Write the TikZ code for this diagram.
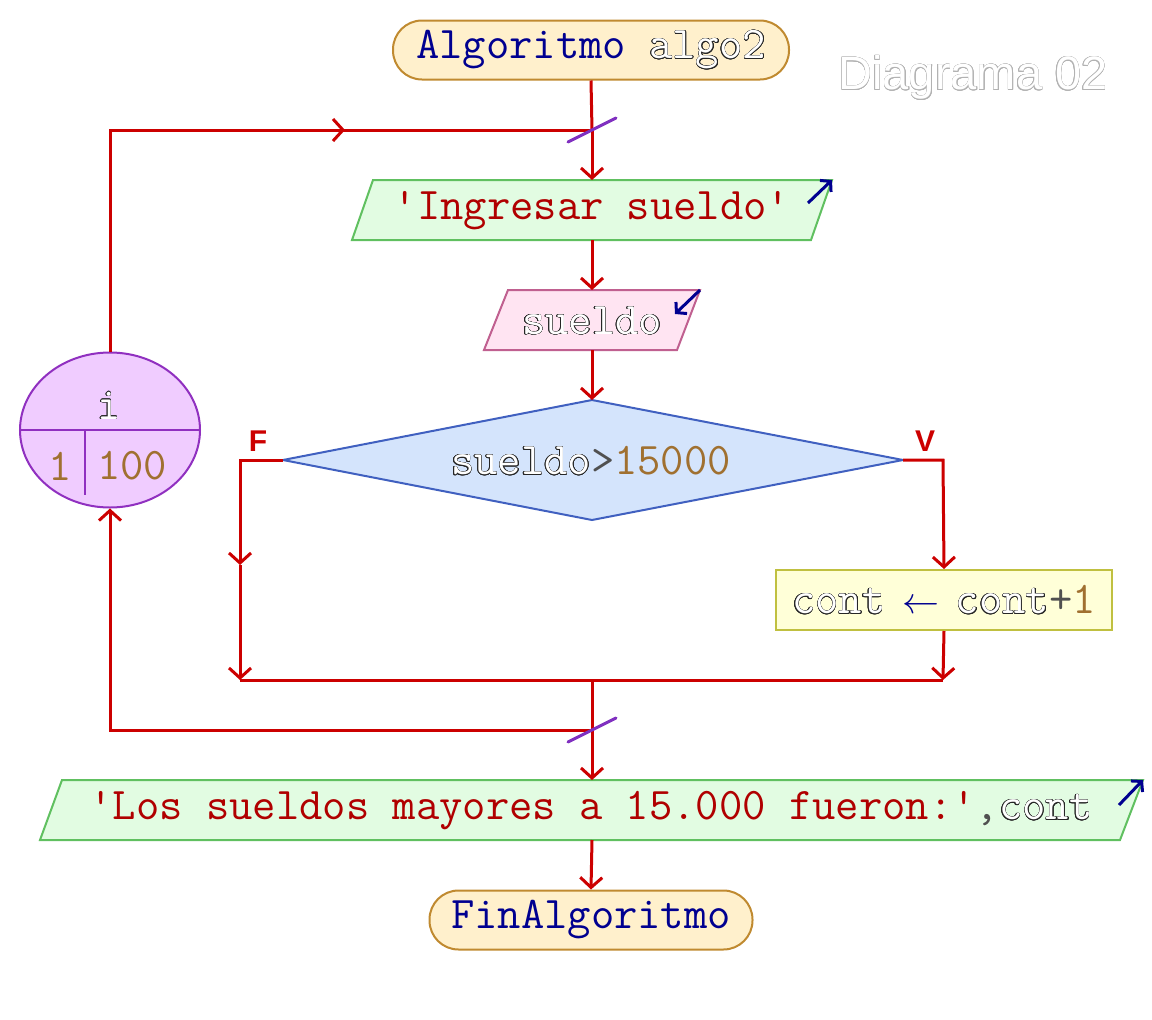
\documentclass[tikz,border=0pt]{standalone}
\usepackage{fontspec}
\usepackage{graphicx}
\newfontfamily\labfont{Liberation Sans}
\usepackage[copies]{contour}
\contourlength{0.45pt}
\contournumber{16}
\usetikzlibrary{arrows.meta,shapes.geometric}
\definecolor{flowred}{HTML}{CC0000}
\definecolor{strred}{HTML}{B00000}
\definecolor{kwblue}{HTML}{000090}
\definecolor{numbrown}{HTML}{A07030}
\definecolor{opgray}{HTML}{505050}
\definecolor{slashpur}{HTML}{8030C0}
\definecolor{termfill}{HTML}{FFF0CC}
\definecolor{termdraw}{HTML}{C08A30}
\definecolor{outfill}{HTML}{E2FCE2}
\definecolor{outdraw}{HTML}{60C060}
\definecolor{infill}{HTML}{FFE4F2}
\definecolor{indraw}{HTML}{C06090}
\definecolor{decfill}{HTML}{D4E4FC}
\definecolor{decdraw}{HTML}{4060C0}
\definecolor{asgfill}{HTML}{FFFFD8}
\definecolor{asgdraw}{HTML}{C0C040}
\definecolor{forfill}{HTML}{F0CCFF}
\definecolor{fordraw}{HTML}{9030C0}
\newcommand\outv[1]{{\color{white}\contour{black!85}{#1}}}
\newcommand\kw[1]{\textcolor{kwblue}{#1}}
\newcommand\str[1]{\textcolor{strred}{#1}}
\newcommand\num[1]{\textcolor{numbrown}{#1}}
\newcommand\op[1]{\textcolor{opgray}{#1}}
\newcommand\qs{\textquotesingle}
\begin{document}
\begin{tikzpicture}[x=1pt,y=-1pt,
  txt/.style={font=\ttfamily\fontsize{45.3}{46}\selectfont, inner sep=0pt},
  flow/.style={draw=flowred, line width=3pt},
  tip/.style={-{Straight Barb[length=10pt,width=22pt]}},
  term/.style={txt, draw=termdraw, fill=termfill, line width=2pt, rounded corners=29pt, minimum height=59pt},
  outshape/.style={draw=outdraw, fill=outfill, line width=2pt},
  inshape/.style={draw=indraw, fill=infill, line width=2pt},
  decshape/.style={draw=decdraw, fill=decfill, line width=2pt},
  asg/.style={txt, draw=asgdraw, fill=asgfill, line width=2pt, minimum width=336pt, minimum height=60pt},
  forshape/.style={draw=fordraw, fill=forfill, line width=2pt},
  slash/.style={draw=slashpur, line width=3pt, line cap=round},
  ioarrow/.style={draw=kwblue, line width=3pt, -{Straight Barb[length=7pt,width=16pt]}},
  branchlab/.style={font=\labfont\bfseries\fontsize{30}{30}\selectfont, text=flowred, inner sep=0pt}]
\useasboundingbox (0,0) rectangle (1152,1020);

% title
\node[font=\labfont\fontsize{47}{47}\selectfont, inner sep=0pt, text=white] (title) at (973,78) {{\color{white}\contour{black!30}{Diagrama 02}}};

% start
\node[term, minimum width=396pt] (start) at (591,50) {\kw{Algoritmo} \outv{algo2}};

% coordinates
\coordinate (j1) at (592,130);
\coordinate (lc1) at (110,130);
\coordinate (lmid) at (345,130);
\coordinate (o1t) at (592,180);
\coordinate (o1b) at (592,240);
\coordinate (i1t) at (592,290);
\coordinate (i1b) at (592,350);
\coordinate (dtop) at (592,400);
\coordinate (dright) at (903,460);
\coordinate (dbot) at (592,520);
\coordinate (dleft) at (283,460);
\coordinate (fl1) at (240,460);
\coordinate (fl2) at (240,565);
\coordinate (fl3) at (240,680);
\coordinate (vr1) at (943,460);
\coordinate (vr2) at (943,680);
\coordinate (jm) at (592,680);
\coordinate (j2) at (592,730);
\coordinate (lc2) at (110,730);
\coordinate (o2t) at (592,780);
\coordinate (o2b) at (592,840);

% output 1
\draw[outshape] (373,180) coordinate (o1tr0) -- (832,180) coordinate (o1tr) -- (811,240) -- (352,240) -- cycle;
\node[txt] (o1) at (592,211) {\str{\qs Ingresar sueldo\qs}};
\draw[ioarrow] ([shift={(-24,23)}]o1tr) -- (o1tr);

% input
\draw[inshape] (508,290) -- (700,290) coordinate (i1tr) -- (677,350) -- (484,350) -- cycle;
\node[txt] (in1) at (592,321) {\outv{sueldo}};
\draw[ioarrow] (i1tr) -- ([shift={(-25,24)}]i1tr);

% decision
\draw[decshape] (dtop) -- (dright) -- (dbot) -- (dleft) -- cycle;
\node[txt] (dec) at (591,461) {\outv{sueldo}\op{>}\num{15000}};
\node[branchlab] (flab) at (258,441) {F};
\node[branchlab] (vlab) at (925,441) {V};

% assignment
\node[asg] (box) at (944,600) {\outv{cont} \makebox[23.8pt]{\textcolor{kwblue}{\resizebox{37pt}{!}{$\leftarrow$}}} \outv{cont}\op{+}\num{1}};

% for loop
\node[forshape, ellipse, minimum width=180pt, minimum height=155pt, inner sep=0pt] (circ) at (110,430) {};
\draw[draw=fordraw, line width=2pt] (circ.west) -- (circ.east);
\draw[draw=fordraw, line width=2pt] (85,430) -- (85,495);
\node[txt] (fvar) at (109,406) {\outv{i}};
\node[txt] (fini) at (60,466) {\num{1}};
\node[txt] (fend) at (132,466) {\num{100}};

% output 2
\draw[outshape] (62,780) -- (1143,780) coordinate (o2tr) -- (1120,840) -- (40,840) -- cycle;
\node[txt] (o2) at (591,811) {\str{\qs Los sueldos mayores a 15.000 fueron:\qs}\op{,}\outv{cont}};
\draw[ioarrow] ([shift={(-24,25)}]o2tr) -- (o2tr);

% end
\node[term, minimum width=323pt] (end) at (591,920) {\kw{FinAlgoritmo}};

% connectors
\draw[flow] (start.south) -- (j1);
\draw[flow,tip] (j1) -- (o1t);
\draw[flow,tip] (o1b) -- (i1t);
\draw[flow,tip] (i1b) -- (dtop);
\draw[flow] (circ.north) -- (lc1) -- (j1);
\draw[flow,tip] (lc1) -- (lmid);
\draw[flow,tip] (dleft) -- (fl1) -- (fl2);
\draw[flow,tip] (fl2) -- (fl3);
\draw[flow,tip] (dright) -- (vr1) -- (box.north);
\draw[flow,tip] (box.south) -- (vr2);
\draw[flow] (fl3) -- (vr2);
\draw[flow] (jm) -- (j2);
\draw[flow,tip] (j2) -- (lc2) -- (circ.south);
\draw[flow,tip] (j2) -- (o2t);
\draw[flow,tip] (o2b) -- (end.north);

% loop markers
\draw[slash] ([shift={(-24,12)}]j1) -- ([shift={(24,-12)}]j1);
\draw[slash] ([shift={(-24,12)}]j2) -- ([shift={(24,-12)}]j2);
\end{tikzpicture}
\end{document}
